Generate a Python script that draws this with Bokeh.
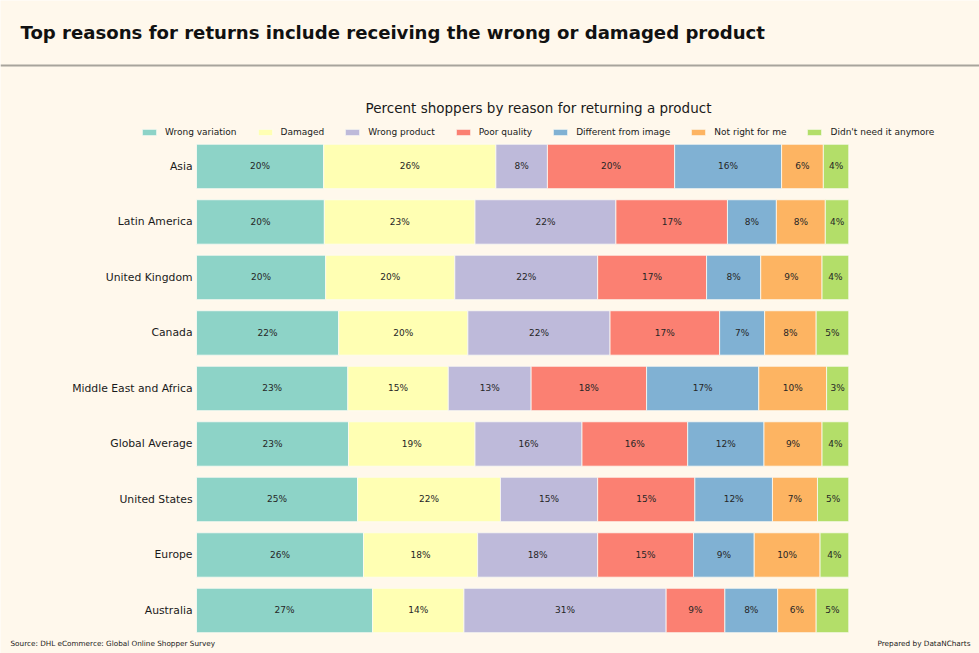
import numpy as np
from bokeh.plotting import figure
from bokeh.models import (ColumnDataSource, Range1d, Legend, LegendItem, Label,
                          BoxAnnotation)
from bokeh.core.properties import value
from bokeh.embed import file_html
from bokeh.resources import INLINE

# ---------------- data (percent of shoppers) ----------------
regions = ["Asia", "Latin America", "United Kingdom", "Canada", "Middle East and Africa",
           "Global Average", "United States", "Europe", "Australia"]
reasons = ["Wrong variation", "Damaged", "Wrong product", "Poor quality",
           "Different from image", "Not right for me", "Didn't need it anymore"]
wrong_variation = [19.5, 19.6, 19.8, 21.8, 23.2, 23.3, 24.7, 25.6, 27.0]
damaged = [26.4, 23.1, 19.8, 19.8, 15.4, 19.4, 21.9, 17.5, 14.0]
wrong_product = [7.9, 21.6, 21.9, 21.8, 12.7, 16.4, 14.9, 18.4, 31.0]
poor_quality = [19.5, 17.1, 16.7, 16.8, 17.7, 16.2, 14.9, 14.7, 9.0]
different_from_image = [16.4, 7.5, 8.3, 6.9, 17.2, 11.7, 11.9, 9.3, 8.1]
not_right_for_me = [6.4, 7.5, 9.4, 7.9, 10.4, 8.9, 6.9, 10.1, 5.9]
didnt_need_it = [3.9, 3.6, 4.1, 5.0, 3.4, 4.1, 4.8, 4.4, 5.0]

series = [wrong_variation, damaged, wrong_product, poor_quality,
          different_from_image, not_right_for_me, didnt_need_it]
colors = ["#8dd3c7", "#ffffb3", "#bebada", "#fb8072", "#80b1d3", "#fdb462", "#b3de69"]

BG = "#fff8ec"
FONT = "DejaVu Sans"
W, H = 979, 653

# row position: first region at the top
ypos = list(np.arange(len(regions))[::-1].astype(float))

data = {"region": regions, "ypos": ypos}
for name, vals in zip(reasons, series):
    data[name] = vals
source = ColumnDataSource(data)

p = figure(width=W, height=H, output_backend="svg", toolbar_location=None,
           title=None, x_axis_location=None, y_axis_location=None,
           x_range=Range1d(-30.05, 120.04), y_range=Range1d(-0.775, 10.99),
           min_border=0, background_fill_color=BG, border_fill_color=BG,
           outline_line_color=None)
p.xgrid.visible = False
p.ygrid.visible = False

rends = p.hbar_stack(reasons, y="ypos", height=0.8, color=colors, source=source,
                     line_color="#fdfbf4", line_width=0.8)

# segment labels
arr = np.array(series)
lefts = np.cumsum(arr, axis=0) - arr
mids = lefts + arr / 2
lx, ly, lt = [], [], []
for i in range(arr.shape[0]):
    for j in range(len(regions)):
        lx.append(float(mids[i, j]))
        ly.append(ypos[j])
        lt.append(f"{arr[i, j]:.0f}%")
p.text(x="x", y="y", text="t", source=ColumnDataSource(dict(x=lx, y=ly, t=lt)),
       text_align="center", text_baseline="middle", text_color="#262626",
       text_font=value(FONT), text_font_size=value("9px"))

# region (category) labels
p.text(x=0, y="ypos", text="region", source=source, x_offset=-4,
       text_align="right", text_baseline="middle", text_color="#1a1a1a",
       text_font=value(FONT), text_font_size=value("10.8px"))

# legend
legend = Legend(items=[LegendItem(label=n, renderers=[r]) for n, r in zip(reasons, rends)],
                orientation="horizontal", location=(140, 516),
                background_fill_alpha=0, border_line_color=None,
                glyph_width=18, glyph_height=8, label_standoff=7, spacing=19,
                padding=0, margin=0, label_height=8,
                label_text_font=FONT, label_text_font_size="9px",
                label_text_color="#1a1a1a")
p.add_layout(legend, "center")

# texts (screen units: x from left, y from bottom)
def sy(y_top):
    return H - y_top

p.add_layout(Label(x=20, y=sy(32), x_units="screen", y_units="screen",
                   text="Top reasons for returns include receiving the wrong or damaged product",
                   text_font=FONT, text_font_size="18.1px", text_font_style="bold",
                   text_color="#111111", text_baseline="middle", text_align="left"))
p.add_layout(BoxAnnotation(left=0, right=W, top=sy(64), bottom=sy(66),
                           left_units="screen", right_units="screen",
                           top_units="screen", bottom_units="screen",
                           fill_color="#a8a49c", fill_alpha=1, line_color=None))
p.add_layout(Label(x=538, y=sy(107), x_units="screen", y_units="screen",
                   text="Percent shoppers by reason for returning a product",
                   text_font=FONT, text_font_size="13.5px", text_color="#1a1a1a",
                   text_baseline="middle", text_align="center"))
p.add_layout(Label(x=10, y=sy(643), x_units="screen", y_units="screen",
                   text="Source: DHL eCommerce: Global Online Shopper Survey",
                   text_font=FONT, text_font_size="7.25px", text_color="#1a1a1a",
                   text_baseline="middle", text_align="left"))
p.add_layout(Label(x=970, y=sy(643), x_units="screen", y_units="screen",
                   text="Prepared by DataNCharts",
                   text_font=FONT, text_font_size="7.3px", text_color="#1a1a1a",
                   text_baseline="middle", text_align="right"))

open("out.html", "w").write(file_html(p, INLINE))
